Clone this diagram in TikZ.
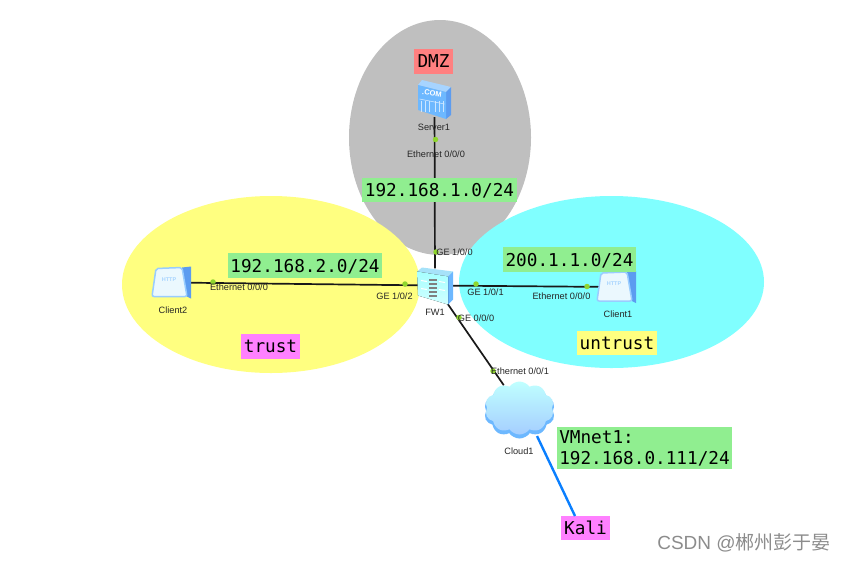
\documentclass[tikz,border=0pt]{standalone}
\usepackage{fontspec}
\setmainfont{Liberation Sans}
\setmonofont{DejaVu Sans Mono}
\newfontfamily\cjkfont{Noto Sans CJK SC}
\usepackage{xcolor}
\usetikzlibrary{positioning,shapes.symbols,shapes.geometric,shadings}
\definecolor{zonegray}{HTML}{BFBFBF}
\definecolor{zoneyellow}{HTML}{FFFF80}
\definecolor{zonecyan}{HTML}{80FFFF}
\definecolor{tagred}{HTML}{FF8080}
\definecolor{tagpink}{HTML}{FF80FF}
\definecolor{taggreen}{HTML}{90EE90}
\definecolor{portgreen}{HTML}{8FD62E}
\definecolor{linkblue}{HTML}{0A7FFF}
\definecolor{iconblue}{HTML}{6DB8FF}
\definecolor{icondark}{HTML}{5C9CF0}
\tikzset{
  zone/.style={ellipse,inner sep=0pt},
  tag/.style={font=\ttfamily\fontsize{17.7}{21}\selectfont,inner sep=0pt,text depth=0pt},
  port/.style={circle,fill=portgreen,inner sep=0pt,minimum size=5.5pt},
  small/.style={font=\fontsize{9.2}{10}\selectfont,text=black!85,inner sep=0pt},
  device/.style={inner sep=0pt,minimum width=34pt,minimum height=34pt},
  wire/.style={black!90,line width=1.7pt}
}
\newcommand{\clienticon}[1]{
\begin{scope}[shift={(#1)}]
\fill[icondark] (10,-15) -- (19,-16) -- (19,16) -- (15,14) -- cycle;
\draw[rounded corners=2pt,fill=cyan!8,draw=iconblue!70,line width=1.5pt] (-16,-14) -- (10,-15) -- (15,14) -- (-20,14) -- cycle;
\node[font=\fontsize{5.5}{5.5}\selectfont\bfseries,text=iconblue!60,inner sep=0pt] at (-3,-3) {HTTP};
\end{scope}
}
\newcommand{\servericon}[1]{
\begin{scope}[shift={(#1)}]
\fill[iconblue!60] (-16.5,-15) -- (-12.5,-20) -- (16.5,-13) -- (11.5,-8) -- cycle;
\fill[icondark] (11.5,-8) -- (16.5,-13) -- (16.5,15) -- (11.5,19) -- cycle;
\fill[iconblue] (-16.5,-15) -- (11.5,-8) -- (11.5,19) -- (-16.5,10) -- cycle;
\node[font=\fontsize{7.5}{7.5}\selectfont\bfseries,text=white,inner sep=0pt,rotate=-8] at (-2.5,-7) {.COM};
\foreach \x in {-13,-9,-5,1,5,9}{
  \draw[white!65!iconblue,line width=0.6pt] (\x,1) -- (\x,12);
}
\draw[white!65!iconblue,line width=0.6pt] (-15,-1) -- (10,4);
\end{scope}
}
\newcommand{\fwicon}[1]{
\begin{scope}[shift={(#1)}]
\fill[cyan!35] (-18,-14) -- (-13,-18) -- (18,-14) -- (13,-9) -- cycle;
\fill[iconblue] (13,-9) -- (18,-14) -- (18,14) -- (13,19) -- cycle;
\fill[top color=cyan!35,bottom color=cyan!18] (-18,-14) -- (13,-9) -- (13,19) -- (-17,10) -- cycle;
\foreach \y in {-7,-3,1,5,9}{
  \fill[black!50] (-6,\y) rectangle (2,\y+2);
}
\foreach \y in {-5,3}{
  \draw[white,line width=1pt] (-14,\y) -- (-8,\y+1);
  \draw[white,line width=1pt] (4,\y+1) -- (10,\y+2);
}
\end{scope}
}
\begin{document}
\begin{tikzpicture}[x=1pt,y=-1pt]
\useasboundingbox (0,0) rectangle (845,563);
% zones
\fill[zonegray] (440,137.5) ellipse (91 and 117.5);
\fill[zoneyellow] (271,284.5) ellipse (149 and 88.5);
\fill[zonecyan] (611.5,282) ellipse (152.5 and 86);
% devices
\node[device] (Server1) at (434.5,100) {};
\node[device] (FW1) at (435,285.5) {};
\node[device] (Client2) at (172,282.5) {};
\node[device] (Client1) at (617,287) {};
\node[cloud,cloud puffs=10,cloud puff arc=110,aspect=1.3,inner sep=0pt,minimum width=71pt,minimum height=55pt,fill=iconblue] (cloudshade) at (519.5,411) {};
\node[cloud,cloud puffs=10,cloud puff arc=110,aspect=1.3,inner sep=0pt,minimum width=69pt,minimum height=53pt,top color=cyan!25,bottom color=cyan!45!blue!35] (Cloud1) at (519.5,408) {};
\node[tag,fill=tagpink,minimum width=49pt,minimum height=24pt] (Kali) at (585.5,528) {Kali};
\coordinate (cloudport) at (537,436);
\coordinate (kaliport) at (575,516);
% links
\draw[wire] (Server1) -- (FW1);
\draw[wire] (Client2) -- (FW1);
\draw[wire] (FW1) -- (Client1);
\draw[wire] (FW1) -- (Cloud1);
\draw[linkblue,line width=2.4pt] (cloudport) -- (kaliport);
\servericon{Server1}
\fwicon{FW1}
\clienticon{Client2}
\clienticon{Client1}
% ports
\foreach \x/\y/\n in {435.5/139.5/a,436/252/b,405/284/c,213/282/d,476/284/e,587/286.5/f,459/317.5/g,493/371/h}{
  \node[port] (port\n) at (\x,\y) {};
}
% small labels
\node[small] (lserver) at (434,127.5) {Server1};
\node[small] (lfw) at (435,312) {FW1};
\node[small] (lclienta) at (173,310) {Client2};
\node[small] (lclientb) at (618,314) {Client1};
\node[small] (lcloud) at (519,451) {Cloud1};
\node[small] (ea) at (436,154) {Ethernet 0/0/0};
\node[small] (eb) at (239,287) {Ethernet 0/0/0};
\node[small] (ec) at (561.5,296) {Ethernet 0/0/0};
\node[small] (ed) at (520,371) {Ethernet 0/0/1};
\node[small] (ga) at (454.5,252) {GE 1/0/0};
\node[small] (gb) at (394.5,296) {GE 1/0/2};
\node[small] (gc) at (485.5,292) {GE 1/0/1};
\node[small] (gd) at (476,318) {GE 0/0/0};
% tags
\node[tag,fill=tagred,minimum width=39pt,minimum height=25pt] (dmz) at (433.5,61.5) {DMZ};
\node[tag,fill=taggreen,minimum width=155pt,minimum height=24pt] (netdmz) at (439.5,190) {192.168.1.0/24};
\node[tag,fill=taggreen,minimum width=154pt,minimum height=25pt] (nettrust) at (305,265.5) {192.168.2.0/24};
\node[tag,fill=taggreen,minimum width=133pt,minimum height=25pt] (netuntrust) at (569.5,259.5) {200.1.1.0/24};
\node[tag,fill=tagpink,minimum width=59pt,minimum height=25pt] (trust) at (270.5,346.5) {trust};
\node[tag,fill=zoneyellow,minimum width=80pt,minimum height=24pt] (untrust) at (617,343) {untrust};
\node[tag,fill=taggreen,align=left,inner xsep=2.5pt,inner ysep=4pt] (vmnet) at (644.5,448) {VMnet1:\\192.168.0.111/24};
% watermark
\node[font=\fontsize{19}{22}\selectfont,text=black!45,inner sep=0pt] (mark) at (744,543) {CSDN @{\cjkfont 郴州彭于晏}};
\end{tikzpicture}
\end{document}
